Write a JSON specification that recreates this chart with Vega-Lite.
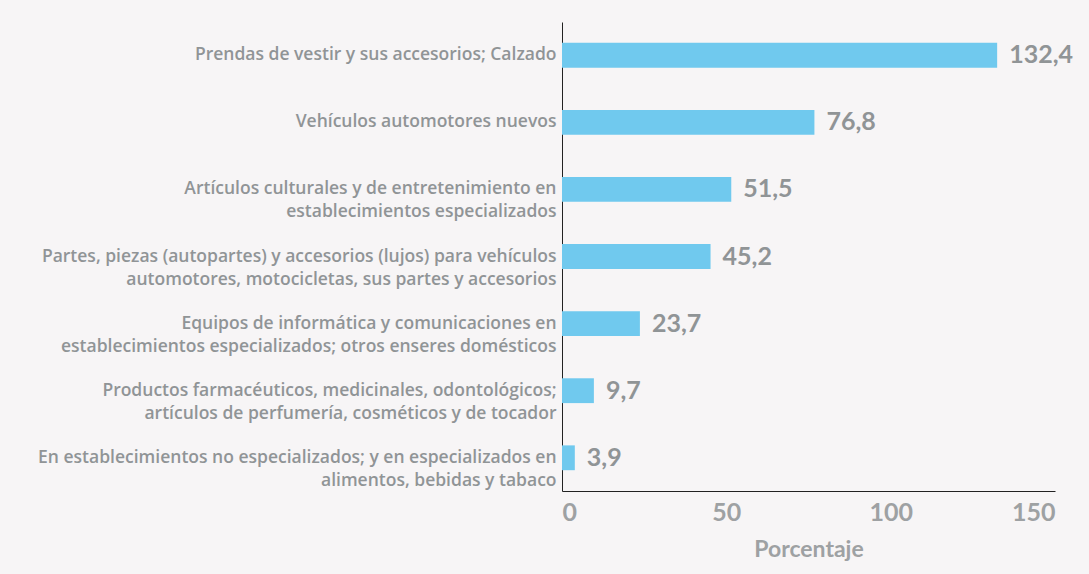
{
  "$schema": "https://vega.github.io/schema/vega-lite/v6.json",
  "width": 493,
  "height": 469,
  "autosize": {"type": "none"},
  "padding": {"left": 562, "top": 22, "right": 34, "bottom": 83},
  "background": "#f7f5f6",
  "config": {"view": {"stroke": null}, "font": "Lato"},
  "data": {
    "values": [
      {"categoria": "Prendas de vestir y sus accesorios; Calzado", "valor": 132.4, "etiqueta": "132,4"},
      {"categoria": "Vehículos automotores nuevos", "valor": 76.8, "etiqueta": "76,8"},
      {"categoria": "Artículos culturales y de entretenimiento en|establecimientos especializados", "valor": 51.5, "etiqueta": "51,5"},
      {"categoria": "Partes, piezas (autopartes) y accesorios (lujos) para vehículos|automotores, motocicletas, sus partes y accesorios", "valor": 45.2, "etiqueta": "45,2"},
      {"categoria": "Equipos de informática y comunicaciones en|establecimientos especializados;  otros enseres domésticos", "valor": 23.7, "etiqueta": "23,7"},
      {"categoria": "Productos farmacéuticos, medicinales, odontológicos;|artículos de perfumería, cosméticos y de tocador", "valor": 9.7, "etiqueta": "9,7"},
      {"categoria": "En establecimientos no especializados; y en especializados en|alimentos, bebidas y tabaco", "valor": 3.9, "etiqueta": "3,9"}
    ]
  },
  "encoding": {
    "y": {
      "field": "categoria",
      "type": "nominal",
      "sort": null,
      "scale": {"paddingInner": 0.63, "paddingOuter": 0.31},
      "axis": {
        "title": null,
        "labelExpr": "split(datum.label, '|')",
        "labelFont": "Open Sans",
        "labelFontSize": 17.5,
        "labelFontWeight": 600,
        "labelColor": "#909496",
        "labelLineHeight": 23,
        "labelPadding": 6,
        "labelLimit": 600,
        "ticks": false,
        "domainColor": "#222222",
        "domainWidth": 1
      }
    },
    "x": {
      "field": "valor",
      "type": "quantitative",
      "scale": {"domain": [0, 150]},
      "axis": {
        "title": "Porcentaje",
        "values": [0, 50, 100, 150],
        "grid": false,
        "ticks": false,
        "labelFontSize": 25,
        "labelFontWeight": "bold",
        "labelColor": "#9ea1a3",
        "labelPadding": 9,
        "labelFlush": true,
        "titleFontSize": 23,
        "titleFontWeight": "bold",
        "titleColor": "#9ea1a3",
        "titlePadding": 13,
        "domainColor": "#222222",
        "domainWidth": 1
      }
    }
  },
  "layer": [
    {"mark": {"type": "bar", "color": "#70c9ee"}},
    {
      "mark": {"type": "text", "align": "left", "baseline": "middle", "dx": 12, "fontSize": 25, "fontWeight": "bold", "color": "#909496"},
      "encoding": {"text": {"field": "etiqueta"}}
    }
  ]
}
